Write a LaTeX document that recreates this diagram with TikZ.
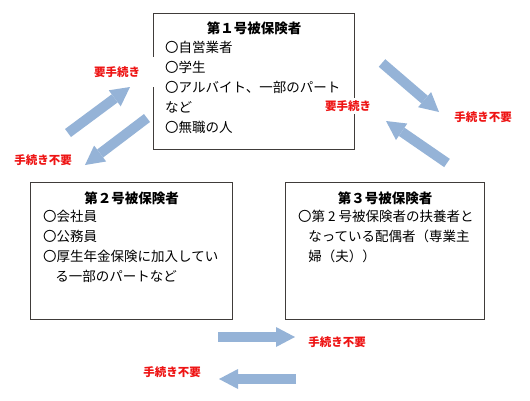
\documentclass[tikz,border=0pt]{standalone}
\usepackage{fontspec}
\setmainfont{Noto Sans CJK JP}
\usepackage{tikz}
\usetikzlibrary{arrows.meta, positioning, calc}
\definecolor{arrowblue}{RGB}{149, 179, 215}
\definecolor{boxline}{RGB}{64, 60, 58}
\definecolor{notered}{RGB}{238, 20, 20}
\tikzset{
  hokenbox/.style={rectangle, draw=boxline, line width=1.3pt, anchor=north west, inner sep=0pt},
  boxtitle/.style={font=\fontsize{13.5}{20}\selectfont\bfseries, inner sep=0pt},
  boxbody/.style={font=\fontsize{13.5}{20}\selectfont, align=left, anchor=north west, inner sep=0pt},
  tetsuzuki/.style={text=notered, font=\fontsize{11.5}{14}\selectfont\bfseries, fill=white, inner sep=2pt},
  fatarrow/.style={draw=arrowblue, line width=10pt, -{Triangle[width=20pt, length=19pt, line width=0pt]}},
}

\begin{document}
\begin{tikzpicture}[x=1pt, y=-1pt]
  \useasboundingbox (0,0) rectangle (530,400);
  % the three boxes
  \node[hokenbox, minimum width=201pt, minimum height=136pt] (box1) at (153,13) {};
  \node[hokenbox, minimum width=202pt, minimum height=137pt] (box2) at (30,182) {};
  \node[hokenbox, minimum width=199pt, minimum height=137pt] (box3) at (285,182) {};
  \node[boxtitle] (title1) at ($(box1.north)+(0,15)$) {第１号被保険者};
  \node[boxtitle] (title2) at ($(box2.north)+(0,16)$) {第２号被保険者};
  \node[boxtitle] (title3) at ($(box3.north)+(0,16)$) {第３号被保険者};
  \node[boxbody] (body1) at ($(box1.north west)+(12,28)$)
    {〇自営業者\\〇学生\\〇アルバイト、一部のパート\\など\\〇無職の人};
  \node[boxbody] (body2) at ($(box2.north west)+(13,28)$)
    {〇会社員\\〇公務員\\〇厚生年金保険に加入してい\\\hspace{0.9em}る一部のパートなど};
  \node[boxbody] (body3) at ($(box3.north west)+(13,28)$)
    {〇第 2 号被保険者の扶養者と\\\hspace{0.75em}なっている配偶者（専業主\\\hspace{0.75em}婦（夫））};
  % arrow ends
  \coordinate (a1s) at (68,133);  \coordinate (a1e) at (130,87);
  \coordinate (a2s) at (147,118); \coordinate (a2e) at (85,165);
  \coordinate (a3s) at (382,63);  \coordinate (a3e) at (439,112);
  \coordinate (a4s) at (447,163); \coordinate (a4e) at (386,121);
  \coordinate (a5s) at (218,337); \coordinate (a5e) at (295,337);
  \coordinate (a6s) at (296,379); \coordinate (a6e) at (219,379);
  \foreach \s/\e in {a1s/a1e,a2s/a2e,a3s/a3e,a4s/a4e,a5s/a5e,a6s/a6e}
    \draw[fatarrow] (\s) -- (\e);
  % labels
  \node[tetsuzuki, minimum width=80pt, minimum height=30pt] (need1) at (117,72) {要手続き};
  \node[tetsuzuki] (free1) at (43,160) {手続き不要};
  \node[tetsuzuki] (need3) at (348,106) {要手続き};
  \node[tetsuzuki] (free3) at (483,117) {手続き不要};
  \node[tetsuzuki] (free5) at (337,342) {手続き不要};
  \node[tetsuzuki] (free6) at (172,372) {手続き不要};
\end{tikzpicture}
\end{document}
